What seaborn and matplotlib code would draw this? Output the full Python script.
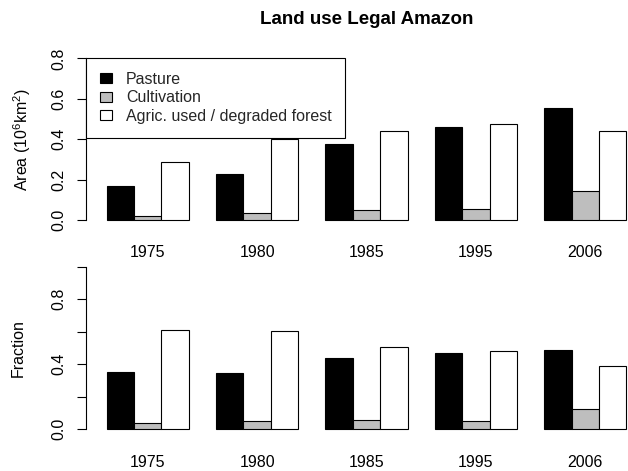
import numpy as np
import pandas as pd
import matplotlib
matplotlib.use("Agg")
import matplotlib.pyplot as plt
import matplotlib.transforms as mtransforms
from matplotlib.patches import Patch
import seaborn as sns

# ---- data ----
years = ["1975", "1980", "1985", "1995", "2006"]
categories = ["Pasture", "Cultivation", "Agric. used / degraded forest"]
area_pasture = [0.168, 0.228, 0.376, 0.460, 0.556]
area_cultivation = [0.018, 0.035, 0.048, 0.053, 0.144]
area_agric = [0.287, 0.399, 0.440, 0.474, 0.440]
frac_pasture = [0.353, 0.345, 0.437, 0.470, 0.488]
frac_cultivation = [0.039, 0.049, 0.055, 0.049, 0.125]
frac_agric = [0.611, 0.607, 0.508, 0.482, 0.388]
colors = ["#000000", "#BEBEBE", "#FFFFFF"]

def long_df(p, c, a):
    rows = []
    for cat, vals in zip(categories, [p, c, a]):
        for y, v in zip(years, vals):
            rows.append({"year": y, "type": cat, "value": v})
    return pd.DataFrame(rows)

df_area = long_df(area_pasture, area_cultivation, area_agric)
df_frac = long_df(frac_pasture, frac_cultivation, frac_agric)

sns.set_theme(style="white")
plt.rcParams["font.family"] = ["Liberation Sans", "DejaVu Sans"]
plt.rcParams["mathtext.fontset"] = "custom"
plt.rcParams["mathtext.rm"] = "Liberation Sans"
plt.rcParams["mathtext.it"] = "Liberation Sans:italic"
plt.rcParams["mathtext.bf"] = "Liberation Sans:bold"

W, H = 628, 471
fig = plt.figure(figsize=(W / 100, H / 100), dpi=100)
fig.patch.set_facecolor("white")

FS = 11.5

def px_axes(left, top, right, bottom):
    return fig.add_axes([left / W, (H - bottom) / H, (right - left) / W, (bottom - top) / H])

ax1 = px_axes(86, 51.9, 647, 226.5)
ax2 = px_axes(86, 260.3, 647, 435.8)

for ax, df in [(ax1, df_area), (ax2, df_frac)]:
    sns.barplot(data=df, x="year", y="value", hue="type", order=years,
                hue_order=categories, palette=colors, saturation=1,
                width=0.75, gap=0, edgecolor="black", linewidth=0.8,
                legend=False, ax=ax, errorbar=None)
    ax.set_xlim(-0.565, 4.565)
    ax.set_facecolor("white")
    for s in ["top", "right", "bottom"]:
        ax.spines[s].set_visible(False)
    ax.spines["left"].set_color("black")
    ax.spines["left"].set_linewidth(0.8)
    ax.set_xlabel("")
    ax.tick_params(axis="x", length=0, pad=13.6, labelsize=FS, colors="black")
    ax.tick_params(axis="y", length=6.8, width=0.8, pad=7, labelsize=FS,
                   colors="black", left=True)
    ax.grid(False)

ax1.set_ylim(-0.032, 0.832)
ax1.spines["left"].set_bounds(0, 0.8)
ax1.set_yticks([0.0, 0.2, 0.4, 0.6, 0.8])
ax1.set_yticklabels(["0.0", "0.2", "0.4", "0.6", "0.8"])

ax2.set_ylim(-0.04, 1.04)
ax2.spines["left"].set_bounds(0, 1.0)
ax2.set_yticks([0.0, 0.2, 0.4, 0.6, 0.8, 1.0])
ax2.set_yticklabels(["0.0", "", "0.4", "", "0.8", ""])

for ax in (ax1, ax2):
    for lab in ax.get_yticklabels():
        lab.set_rotation(90)
        lab.set_va("center")

ax1.set_ylabel(r"Area ($10^6$km$^2$)", fontsize=FS, color="black")
ax1.yaxis.set_label_coords((22 - 86) / 561, 0.5)
ax2.set_ylabel("Fraction", fontsize=FS, color="black")
ax2.yaxis.set_label_coords((18 - 86) / 561, 0.5)
for ax in (ax1, ax2):
    ax.yaxis.label.set_va("center")

ax1.set_title("Land use Legal Amazon", fontsize=13.5, fontweight="bold",
              color="black", pad=20)

handles = [Patch(facecolor=c, edgecolor="black", linewidth=0.8) for c in colors]
trans = mtransforms.blended_transform_factory(ax1.transAxes, ax1.transData)
leg = ax1.legend(handles, categories, loc="upper left",
                 bbox_to_anchor=(0, 0.8), bbox_transform=trans,
                 fontsize=FS, frameon=True, fancybox=False, shadow=False,
                 borderaxespad=0, borderpad=0.85, handlelength=0.8,
                 handleheight=0.57, handletextpad=0.85, labelspacing=0.22)
leg.get_frame().set_edgecolor("black")
leg.get_frame().set_linewidth(0.8)
leg.get_frame().set_facecolor("white")
leg.get_frame().set_alpha(1)

fig.savefig("out.png", dpi=100, facecolor="white")
